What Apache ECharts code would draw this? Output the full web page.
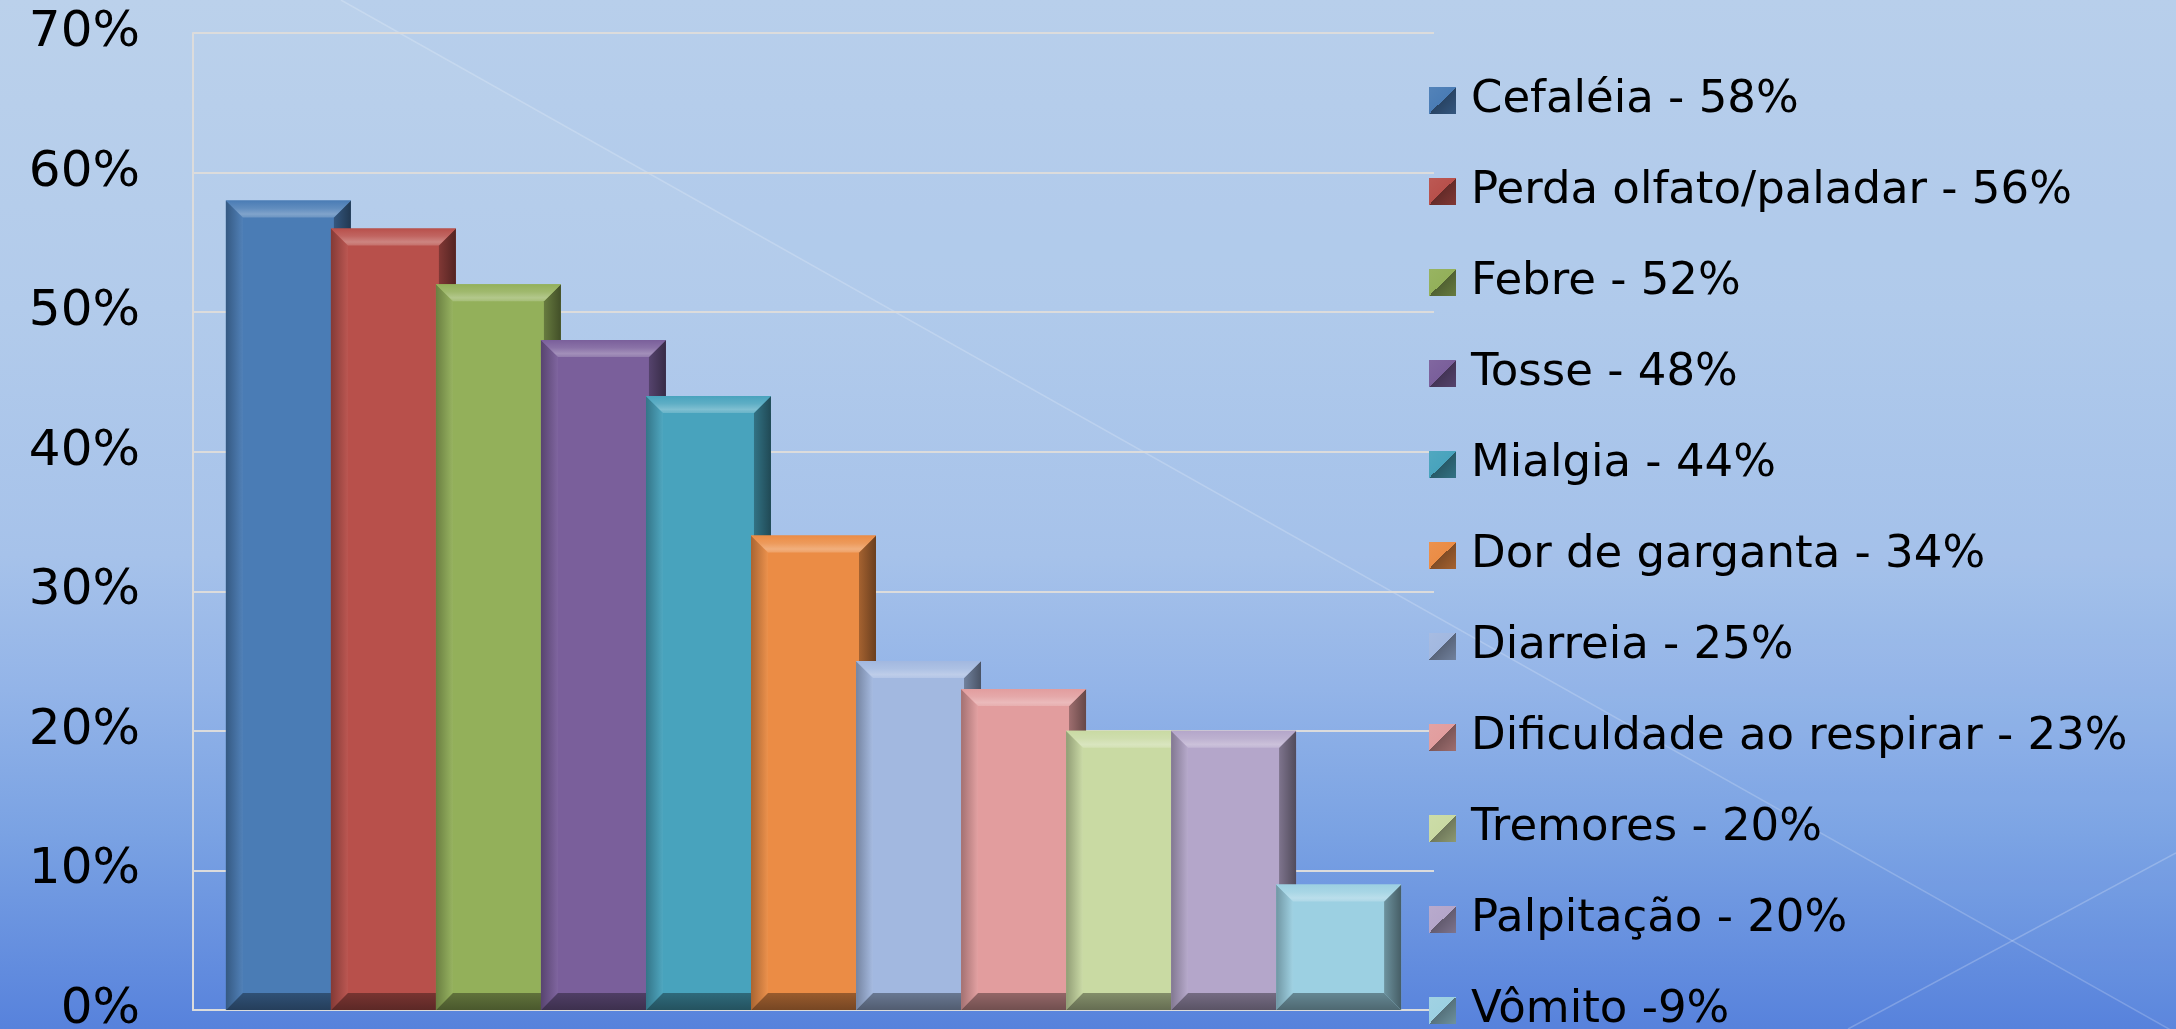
<!DOCTYPE html>
<html>
<head>
<meta charset="utf-8">
<script src="https://cdn.jsdelivr.net/npm/echarts@6/dist/echarts.min.js"></script>
<style>
  html, body { margin: 0; padding: 0; }
  #chart-container {
    width: 2176px;
    height: 1029px;
    background: linear-gradient(180deg, #bbd1eb 0%, #b2cbeb 30%, #a6c2ea 54%, #93b4e8 67%, #7aa2e3 81%, #5782dc 100%);
  }
</style>
</head>
<body>
<div id="chart-container"></div>
<script>
// values (percent of patients)
const symptoms = [
  "Cefaléia", "Perda olfato/paladar", "Febre", "Tosse", "Mialgia",
  "Dor de garganta", "Diarreia", "Dificuldade ao respirar", "Tremores",
  "Palpitação", "Vômito",
];
const values = [58, 56, 52, 48, 44, 34, 25, 23, 20, 20, 9];
const legendLabels = [
  "Cefaléia - 58%", "Perda olfato/paladar - 56%", "Febre - 52%",
  "Tosse - 48%", "Mialgia - 44%", "Dor de garganta - 34%",
  "Diarreia - 25%", "Dificuldade ao respirar - 23%", "Tremores - 20%",
  "Palpitação - 20%", "Vômito -9%",
];
const colors = [
  "#4a7cb5", "#b8504b", "#93b05a", "#7a5f9b", "#48a3bd",
  "#eb8c45", "#a2b8e0", "#e29d9e", "#c9daa3", "#b4a6ca", "#9cd0e2",
];

const CAT_GAP = 0.053;   // empty share of the category band
const W_RATIO = 1.19;    // bar width / step (bars overlap a little)
const BEVEL = 17;

function shade(hex, amt) {
  const n = parseInt(hex.slice(1), 16);
  let r = (n >> 16) & 255, g = (n >> 8) & 255, b = n & 255;
  const t = amt < 0 ? 0 : 255, p = Math.abs(amt);
  r = Math.round(r + (t - r) * p);
  g = Math.round(g + (t - g) * p);
  b = Math.round(b + (t - b) * p);
  return "rgb(" + r + "," + g + "," + b + ")";
}

function grad(x2, y2, stops) {
  return {
    type: "linear", x: 0, y: 0, x2: x2, y2: y2,
    colorStops: stops.map(function (s) { return { offset: s[0], color: s[1] }; }),
  };
}

function bevelBar(idx) {
  const c = colors[idx];
  return function (params, api) {
    const base = api.coord([0, 0]);
    const top = api.coord([0, api.value(1)]);
    const band = api.size([1, 0])[0];
    const span = band * (1 - CAT_GAP);
    const step = span / (symptoms.length - 1 + W_RATIO);
    const w = step * W_RATIO;
    const x0 = base[0] - span / 2 + idx * step;
    const x1 = x0 + w;
    const y0 = top[1];
    const y1 = base[1];
    const b = Math.min(BEVEL, w / 2, (y1 - y0) / 2);
    return {
      type: "group",
      children: [
        { type: "rect", shape: { x: x0, y: y0, width: w, height: y1 - y0 },
          style: { fill: c } },
        { type: "polygon",
          shape: { points: [[x0, y0], [x0 + b, y0 + b], [x0 + b, y1 - b], [x0, y1]] },
          style: { fill: grad(1, 0, [[0, shade(c, -0.28)], [1, shade(c, 0.04)]]) } },
        { type: "polygon",
          shape: { points: [[x1, y0], [x1, y1], [x1 - b, y1 - b], [x1 - b, y0 + b]] },
          style: { fill: grad(1, 0, [[0, shade(c, -0.3)], [1, shade(c, -0.55)]]) } },
        { type: "polygon",
          shape: { points: [[x0, y1], [x0 + b, y1 - b], [x1 - b, y1 - b], [x1, y1]] },
          style: { fill: grad(0, 1, [[0, shade(c, -0.35)], [1, shade(c, -0.5)]]) } },
        { type: "polygon",
          shape: { points: [[x0, y0], [x1, y0], [x1 - b, y0 + b], [x0 + b, y0 + b]] },
          style: { fill: grad(0, 1, [[0, c], [0.45, shade(c, 0.12)], [0.8, shade(c, 0.3)], [1, shade(c, 0.18)]]) } },
      ],
    };
  };
}

const chartContainer = document.getElementById("chart-container");
const myChart = echarts.init(chartContainer);

const option = {
  animation: false,
  backgroundColor: "transparent",
  textStyle: { fontFamily: "DejaVu Sans" },
  graphic: [
    {
      type: "polygon", z: -1, silent: true,
      shape: { points: [[341, 0], [2176, 0], [2176, 1033]] },
      style: { fill: "rgba(150,185,240,0.08)" },
    },
    {
      type: "line", z: -1, silent: true,
      shape: { x1: 341, y1: 0, x2: 2176, y2: 1033 },
      style: { stroke: "rgba(255,255,255,0.2)", lineWidth: 1.5 },
    },
    {
      type: "line", z: -1, silent: true,
      shape: { x1: 1848, y1: 1029, x2: 2176, y2: 853 },
      style: { stroke: "rgba(255,255,255,0.22)", lineWidth: 1.5 },
    },
  ],
  grid: {
    left: 193, right: 742, top: 33, bottom: 19,
    containLabel: false, outerBoundsMode: "none",
  },
  legend: {
    orient: "vertical",
    left: 1424, top: 73, height: 980,
    itemWidth: 27, itemHeight: 27, itemGap: 46,
    icon: "rect",
    textStyle: {
      fontSize: 45, color: "#000",
      fontFamily: "DejaVu Sans", padding: [0, 0, 0, 10],
    },
    data: legendLabels.map(function (name, i) {
      return {
        name: name,
        itemStyle: {
          color: grad(1, 1, [[0, shade(colors[i], 0.05)], [0.5, colors[i]], [0.5, shade(colors[i], -0.45)], [1, shade(colors[i], -0.3)]]),
        },
      };
    }),
  },
  xAxis: {
    type: "category",
    data: [""],
    axisLine: { lineStyle: { color: "#dcdcdc", width: 2 } },
    axisTick: { show: false },
    axisLabel: { show: false },
  },
  yAxis: {
    type: "value",
    min: 0, max: 70, interval: 10,
    axisLine: { show: true, lineStyle: { color: "#dcdcdc", width: 2 } },
    axisTick: { show: false },
    splitLine: { lineStyle: { color: "#dcdcdc", width: 2 } },
    axisLabel: {
      formatter: "{value}%",
      fontSize: 50, color: "#000", fontFamily: "DejaVu Sans", margin: 53,
    },
  },
  series: symptoms.map(function (s, i) {
    return {
      name: legendLabels[i],
      type: "custom",
      itemStyle: { color: colors[i] },
      renderItem: bevelBar(i),
      encode: { x: 0, y: 1 },
      data: [[0, values[i]]],
    };
  }),
};
myChart.setOption(option);
</script>
</body>
</html>
